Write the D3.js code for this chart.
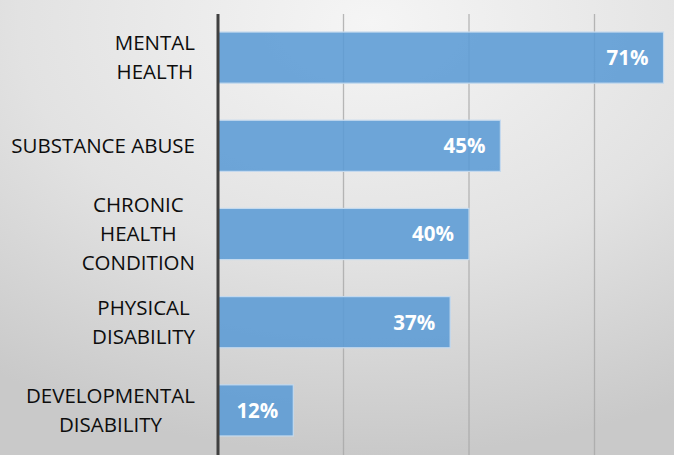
<!DOCTYPE html>
<html><head><meta charset="utf-8">
<script src="https://cdn.jsdelivr.net/npm/d3@7"></script>
<style>html,body{margin:0;padding:0;overflow:hidden;}svg{display:block;}</style>
</head><body>
<svg id="c" width="674" height="455"></svg>
<script>
const categories = [["MENTAL","HEALTH"],["SUBSTANCE ABUSE"],["CHRONIC","HEALTH","CONDITION"],["PHYSICAL","DISABILITY"],["DEVELOPMENTAL","DISABILITY"]];
const values = [71, 45, 40, 37, 12];
const valueLabels = ["71%","45%","40%","37%","12%"];
const gridTicks = [20, 40, 60];

const W = 674, H = 455;
const svg = d3.select("#c");
const defs = svg.append("defs");
const g = defs.append("radialGradient").attr("id","bg").attr("cx","55%").attr("cy","5%").attr("r","95%").attr("fx","55%").attr("fy","5%");
g.append("stop").attr("offset","0%").attr("stop-color","#f5f5f5");
g.append("stop").attr("offset","55%").attr("stop-color","#e2e2e2");
g.append("stop").attr("offset","100%").attr("stop-color","#c9c9c9");
svg.append("rect").attr("width",W).attr("height",H).attr("fill","url(#bg)");

const ids = categories.map((c,i)=>"c"+i);
const x = d3.scaleLinear().domain([0,80]).range([218,720]);
const y = d3.scaleBand().domain(ids).range([13.5,454.5]).paddingInner(0.42).paddingOuter(0.21);

// gridlines
svg.append("g").selectAll("line").data(gridTicks).join("line")
  .attr("x1",d=>x(d)).attr("x2",d=>x(d)).attr("y1",14).attr("y2",H)
  .attr("stroke","#a8a8a8").attr("stroke-width",1.3).attr("opacity",0.8);

// bars
svg.append("g").selectAll("rect").data(values).join("rect")
  .attr("x",x(0)).attr("y",(d,i)=>y(ids[i]))
  .attr("width",d=>x(d)-x(0)).attr("height",y.bandwidth())
  .attr("fill","#5b9bd5").attr("fill-opacity",0.88)
  .attr("stroke","#c5daee").attr("stroke-width",1.2);

// axis line
svg.append("line").attr("x1",x(0)).attr("x2",x(0)).attr("y1",14).attr("y2",H)
  .attr("stroke","#404040").attr("stroke-width",3);

// value labels
svg.append("g").selectAll("text").data(values).join("text")
  .attr("x",d=>x(d)-15).attr("y",(d,i)=>y(ids[i])+y.bandwidth()/2)
  .attr("dy","0.36em").attr("text-anchor","end")
  .attr("font-family","'Open Sans', sans-serif").attr("font-weight","bold").attr("font-size",20.5)
  .attr("fill","#ffffff").text((d,i)=>valueLabels[i]);

// category labels
const lh = 29;
const lg = svg.append("g");
categories.forEach((lines,i)=>{
  const cy = y(ids[i]) + y.bandwidth()/2;
  const t = lg.append("text").attr("font-family","'Open Sans', sans-serif").attr("font-size",20.5).attr("fill","#0d0d0d").attr("text-anchor","middle");
  const ts = lines.map((l,k)=> t.append("tspan").attr("y", cy + (k-(lines.length-1)/2)*lh).attr("dy","0.35em").text(l));
  let maxW = 0;
  ts.forEach(s=>{ maxW = Math.max(maxW, s.node().getComputedTextLength()); });
  const cx = 195 - maxW/2;
  ts.forEach(s=>s.attr("x",cx));
});
</script>
</body></html>
